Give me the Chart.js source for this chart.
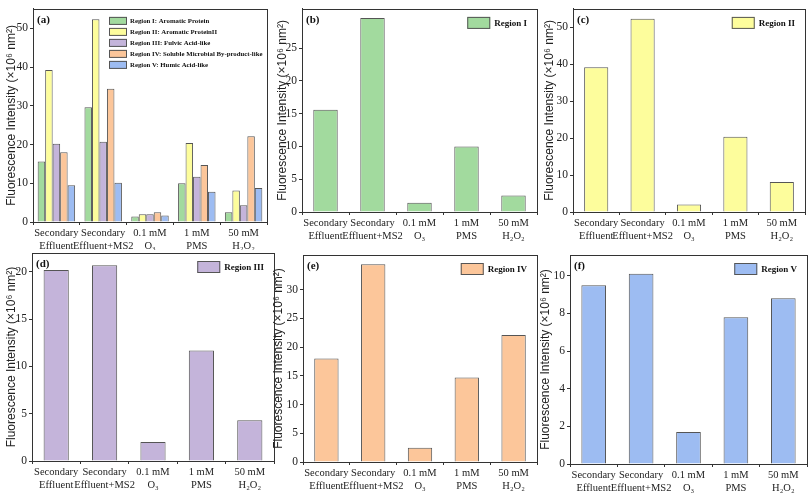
<!DOCTYPE html>
<html>
<head>
<meta charset="utf-8">
<script src="https://cdn.jsdelivr.net/npm/chart.js@4.4.0/dist/chart.umd.min.js"></script>
<style>
	body { margin: 0; background: #fff; }
	#wrap { position: relative; width: 808px; height: 500px; overflow: hidden; }
	.panel { position: absolute; }
</style>
</head>
<body>
<div id="wrap"></div>
<script>
// treatments on the x axis
const categories = [
	['Secondary', 'Effluent'],
	['Secondary', 'Effluent+MS2'],
	['0.1 mM', 'O₃'],
	['1 mM', 'PMS'],
	['50 mM', 'H₂O₂']
];

// fluorescence intensity (x10^6 nm^2) per region
const regionI = [15.6, 29.6, 1.4, 10.0, 2.5];
const regionII = [39.2, 52.3, 2.0, 20.4, 8.1];
const regionIII = [20.2, 20.7, 2.0, 11.7, 4.3];
const regionIV = [18.0, 34.4, 2.5, 14.7, 22.1];
const regionV = [9.5, 10.1, 1.7, 7.8, 8.8];

const longNames = [
	'Region I: Aromatic Protein',
	'Region II: Aromatic ProteinII',
	'Region III: Fulvic Acid-like',
	'Region IV: Soluble Microbial By-product-like',
	'Region V: Humic Acid-like'
];
const shortNames = ['Region I', 'Region II', 'Region III', 'Region IV', 'Region V'];
const colors = ['#a2da9e', '#fdfd9c', '#c4b4da', '#fcc69a', '#9dbcf2'];
const allRegions = [regionI, regionII, regionIII, regionIV, regionV];

const yTitle = 'Fluorescence Intensity (×10⁶ nm²)';

// draws the frame, the panel letter and the small legend inside the plot
const panelDecor = {
	id: 'panelDecor',
	afterDraw(chart, args, opts) {
		const ctx = chart.ctx;
		const a = chart.chartArea;
		ctx.save();
		ctx.strokeStyle = '#333';
		ctx.lineWidth = 1;
		ctx.strokeRect(Math.round(a.left) + 0.5, Math.round(a.top) + 0.5, Math.round(a.right - a.left), Math.round(a.bottom - a.top));

		ctx.fillStyle = '#111';
		ctx.textBaseline = 'middle';
		ctx.textAlign = 'left';
		ctx.font = 'bold 11px "Liberation Serif"';
		ctx.fillText(opts.letter, a.left + 4, a.top + 11);

		const ds = chart.data.datasets;
		ctx.font = 'bold ' + opts.fontSize + 'px "Liberation Serif"';
		ds.forEach((d, i) => {
			let bx, by, tx;
			if (opts.block) {
				bx = a.left + opts.x;
				by = a.top + opts.y + i * opts.rowGap;
				tx = bx + opts.boxW + 3;
			} else {
				const w = ctx.measureText(d.label).width;
				tx = a.right - 10 - w;
				bx = tx - 4 - opts.boxW;
				by = a.top + 8;
			}
			ctx.fillStyle = d.backgroundColor;
			ctx.fillRect(bx, by, opts.boxW, opts.boxH);
			ctx.strokeStyle = '#555';
			ctx.strokeRect(bx + 0.5, by + 0.5, opts.boxW - 1, opts.boxH - 1);
			ctx.fillStyle = '#111';
			ctx.fillText(d.label, tx, by + opts.boxH / 2 + 0.5);
		});
		ctx.restore();
	}
};

function makePanel(p) {
	const div = document.createElement('div');
	div.className = 'panel';
	div.style.left = p.left + 'px';
	div.style.top = p.top + 'px';
	const canvas = document.createElement('canvas');
	canvas.width = p.width;
	canvas.height = p.height;
	div.appendChild(canvas);
	document.getElementById('wrap').appendChild(div);

	const step = p.step;
	new Chart(canvas, {
		type: 'bar',
		data: {
			labels: categories,
			datasets: p.series.map((idx) => ({
				label: p.names[idx],
				data: allRegions[idx],
				backgroundColor: colors[idx],
				borderColor: '#555',
				borderWidth: 1,
				barPercentage: p.barPct,
				categoryPercentage: p.catPct
			}))
		},
		options: {
			responsive: false,
			animation: false,
			layout: {
				padding: { top: p.padTop, right: p.padRight, left: 0, bottom: 0 }
			},
			plugins: {
				legend: { display: false },
				tooltip: { enabled: false },
				panelDecor: p.decor
			},
			scales: {
				x: {
					grid: { display: true, drawOnChartArea: false, offset: true, tickLength: 3, color: '#333' },
					border: { color: '#333' },
					ticks: {
						color: '#222',
						padding: 2,
						maxRotation: 0,
						autoSkip: false,
						font: { family: 'Liberation Serif', size: 10.5, lineHeight: 1.25 }
					},
					afterFit(s) { s.height = p.xH; }
				},
				y: {
					min: 0,
					max: p.max,
					grid: { display: true, drawOnChartArea: false, tickLength: 3, color: '#333' },
					border: { color: '#333' },
					ticks: {
						stepSize: step,
						color: '#222',
						padding: 2,
						font: { family: 'Liberation Serif', size: 11.5 }
					},
					afterBuildTicks(s) {
						s.ticks = s.ticks.filter((t) => Math.abs(t.value / step - Math.round(t.value / step)) < 1e-6);
					},
					title: {
						display: true,
						text: yTitle,
						color: '#222',
						padding: { top: p.titlePad, bottom: 0 },
						font: { family: 'Liberation Sans', size: 12 }
					},
					afterFit(s) { s.width = p.yW; }
				}
			}
		},
		plugins: [panelDecor]
	});
}

const single = { fontSize: 9, boxW: 23, boxH: 12 };

makePanel({
	left: 0, top: 0, width: 272, height: 250, yW: 33, xH: 28, padTop: 4, padRight: 5, titlePad: 4,
	max: 55, step: 10, series: [0, 1, 2, 3, 4], names: longNames, barPct: 1.0, catPct: 0.8,
	decor: { letter: '(a)', block: true, x: 76, y: 8, rowGap: 11, boxW: 18, boxH: 8, fontSize: 6.8 }
});
makePanel({
	left: 270, top: 0, width: 270, height: 250, yW: 32, xH: 38, padTop: 4, padRight: 3, titlePad: 5,
	max: 31, step: 5, series: [0], names: shortNames, barPct: 0.52, catPct: 1.0,
	decor: Object.assign({ letter: '(b)' }, single)
});
makePanel({
	left: 535, top: 0, width: 273, height: 250, yW: 38, xH: 38, padTop: 4, padRight: 3, titlePad: 7,
	max: 55, step: 10, series: [1], names: shortNames, barPct: 0.52, catPct: 1.0,
	decor: Object.assign({ letter: '(c)' }, single)
});
makePanel({
	left: 0, top: 240, width: 280, height: 260, yW: 32, xH: 39, padTop: 13, padRight: 6, titlePad: 4,
	max: 22, step: 5, series: [2], names: shortNames, barPct: 0.52, catPct: 1.0,
	decor: Object.assign({ letter: '(d)' }, single)
});
makePanel({
	left: 270, top: 240, width: 270, height: 260, yW: 33, xH: 38, padTop: 15, padRight: 3, titlePad: 1,
	max: 36, step: 5, series: [3], names: shortNames, barPct: 0.52, catPct: 1.0,
	decor: Object.assign({ letter: '(e)' }, single)
});
makePanel({
	left: 535, top: 240, width: 273, height: 260, yW: 35, xH: 36, padTop: 15, padRight: 1, titlePad: 3,
	max: 11.1, step: 2, series: [4], names: shortNames, barPct: 0.52, catPct: 1.0,
	decor: Object.assign({ letter: '(f)' }, single)
});
</script>
</body>
</html>
